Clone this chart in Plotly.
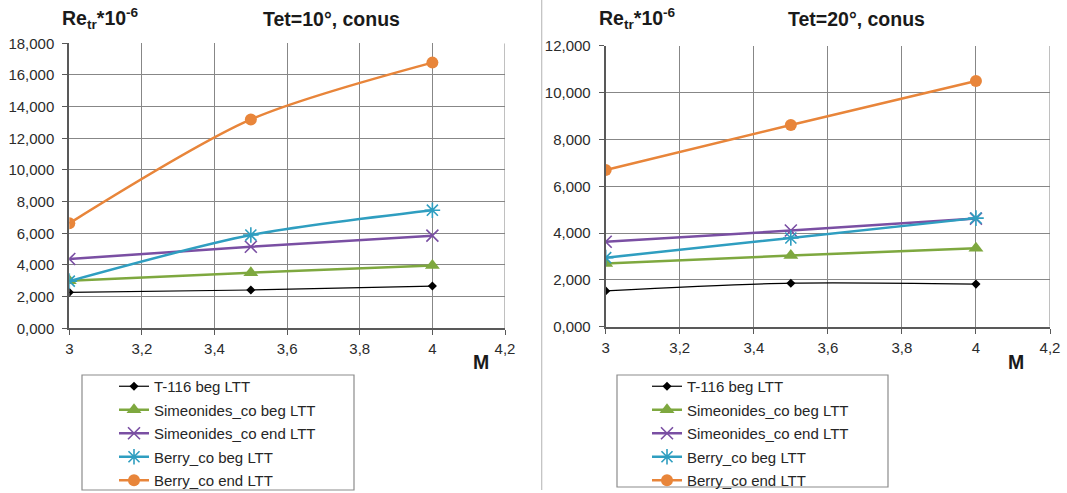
import plotly.graph_objects as go

# Mach numbers (x) and transition Reynolds numbers Re_tr * 1e-6 (y)
mach = [3.0, 3.5, 4.0]

series_names = [
    "T-116 beg LTT",
    "Simeonides_co beg LTT",
    "Simeonides_co end LTT",
    "Berry_co beg LTT",
    "Berry_co end LTT",
]

# Tet = 10 deg cone
t116_beg_10 = [2.27, 2.42, 2.67]
sim_beg_10 = [3.00, 3.51, 3.97]
sim_end_10 = [4.38, 5.15, 5.85]
berry_beg_10 = [2.98, 5.89, 7.46]
berry_end_10 = [6.63, 13.19, 16.78]

# Tet = 20 deg cone
t116_beg_20 = [1.53, 1.86, 1.82]
sim_beg_20 = [2.70, 3.04, 3.35]
sim_end_20 = [3.63, 4.11, 4.62]
berry_beg_20 = [2.95, 3.79, 4.64]
berry_end_20 = [6.70, 8.62, 10.50]

x_ticks = [3.0, 3.2, 3.4, 3.6, 3.8, 4.0, 4.2]
x_tick_text = ["3", "3,2", "3,4", "3,6", "3,8", "4", "4,2"]
y_ticks_10 = [0, 2, 4, 6, 8, 10, 12, 14, 16, 18]
y_ticks_20 = [0, 2, 4, 6, 8, 10, 12]

W, H = 1067, 493
FONT = "Arial, Liberation Sans, sans-serif"

styles = [
    dict(color="#000000", width=1.2, symbol="diamond", size=7, mline=0),
    dict(color="#7ea83f", width=2.5, symbol="triangle-up", size=13, mline=0),
    dict(color="#7a4fa3", width=2.5, symbol="x-thin-open", size=12, mline=1.6),
    dict(color="#2f9ec0", width=2.5, symbol="asterisk-open", size=13, mline=1.6),
    dict(color="#e8853a", width=2.5, symbol="circle", size=12, mline=0),
]


def px_x(v):
    return v / W


def px_y(v):
    return 1 - v / H


fig = go.Figure()

panels = [
    ("x", "y", "legend", [t116_beg_10, sim_beg_10, sim_end_10, berry_beg_10, berry_end_10]),
    ("x2", "y2", "legend2", [t116_beg_20, sim_beg_20, sim_end_20, berry_beg_20, berry_end_20]),
]

for xa, ya, leg, data in panels:
    for i, (name, vals) in enumerate(zip(series_names, data)):
        s = styles[i]
        marker = dict(symbol=s["symbol"], size=s["size"], color=s["color"])
        if s["mline"]:
            marker["line"] = dict(color=s["color"], width=s["mline"])
        fig.add_trace(go.Scatter(
            x=mach, y=vals, name=name, xaxis=xa, yaxis=ya, legend=leg,
            legendgroup=f"{leg}_{i}",
            mode="lines+markers",
            line=dict(color=s["color"], width=s["width"], shape="spline", smoothing=0.8),
            marker=marker,
        ))

grid_c = "#878787"
axis_common = dict(
    showgrid=True, gridcolor=grid_c, gridwidth=1,
    showline=True, linecolor="#595959", linewidth=2,
    ticks="outside", tickcolor="#595959", ticklen=5, tickwidth=1,
    automargin=False,
    tickfont=dict(family=FONT, size=15, color="#2b2b2b"),
    zeroline=False, mirror=False,
)
x_axis_style = dict(axis_common, ticklabelstandoff=1)
y_axis_style = dict(axis_common, ticklabelstandoff=5)

legend_font = dict(family=FONT, size=15, color="#262626")

fig.update_layout(
    width=W, height=H,
    margin=dict(l=0, r=0, t=0, b=0, autoexpand=False),
    paper_bgcolor="white", plot_bgcolor="white",
    showlegend=True,
    xaxis=dict(domain=[px_x(69.3), px_x(505)], range=[3, 4.2],
               tickvals=x_ticks, ticktext=x_tick_text, anchor="y", **x_axis_style),
    yaxis=dict(domain=[px_y(328.3), px_y(43.3)], range=[0, 18],
               tickvals=y_ticks_10, ticktext=[f"{v},000" for v in y_ticks_10],
               anchor="x", **y_axis_style),
    xaxis2=dict(domain=[px_x(605.7), px_x(1050)], range=[3, 4.2],
                tickvals=x_ticks, ticktext=x_tick_text, anchor="y2", **x_axis_style),
    yaxis2=dict(domain=[px_y(326.7), px_y(45.9)], range=[0, 12],
                tickvals=y_ticks_20, ticktext=[f"{v},000" for v in y_ticks_20],
                anchor="x2", **y_axis_style),
    legend=dict(x=px_x(114), y=px_y(370), xanchor="left", yanchor="top",
                bgcolor="rgba(0,0,0,0)", borderwidth=0, tracegroupgap=1,
                font=legend_font),
    legend2=dict(x=px_x(647), y=px_y(370), xanchor="left", yanchor="top",
                 bgcolor="rgba(0,0,0,0)", borderwidth=0, tracegroupgap=1,
                 font=legend_font),
)

# Right border of each plot area (at M = 4.2)
for xref, yref, top in (("x", "y", 18), ("x2", "y2", 12)):
    fig.add_shape(type="line", xref=xref, yref=yref, x0=4.2, x1=4.2, y0=0, y1=top,
                  line=dict(color="#808080", width=1))

# Legend frames
fig.add_shape(type="rect", xref="paper", yref="paper",
              x0=px_x(82), x1=px_x(354), y0=px_y(490), y1=px_y(375),
              line=dict(color="#8c8c8c", width=1.2))
fig.add_shape(type="rect", xref="paper", yref="paper",
              x0=px_x(617), x1=px_x(888), y0=px_y(487), y1=px_y(375),
              line=dict(color="#8c8c8c", width=1.2))

# Separator between the two charts
fig.add_shape(type="line", xref="paper", yref="paper",
              x0=px_x(541.7), x1=px_x(541.7), y0=px_y(490), y1=1,
              line=dict(color="#bfbfbf", width=1.2))

title_font = dict(family=FONT, size=19.5, color="#1a1a1a")
annots = [
    (60, 19, "<b>Re<sub>tr</sub>*10<sup>-6</sup></b>", "left"),
    (261, 19, "<b>Tet=10°, conus</b>", "left"),
    (597, 19, "<b>Re<sub>tr</sub>*10<sup>-6</sup></b>", "left"),
    (786, 19, "<b>Tet=20°, conus</b>", "left"),
    (481, 362, "<b>M</b>", "center"),
    (1016, 362, "<b>M</b>", "center"),
]
for x, y, text, anchor in annots:
    fig.add_annotation(xref="paper", yref="paper", x=px_x(x), y=px_y(y),
                       text=text, showarrow=False, xanchor=anchor, yanchor="middle",
                       font=title_font)

fig.write_html("out.html")
